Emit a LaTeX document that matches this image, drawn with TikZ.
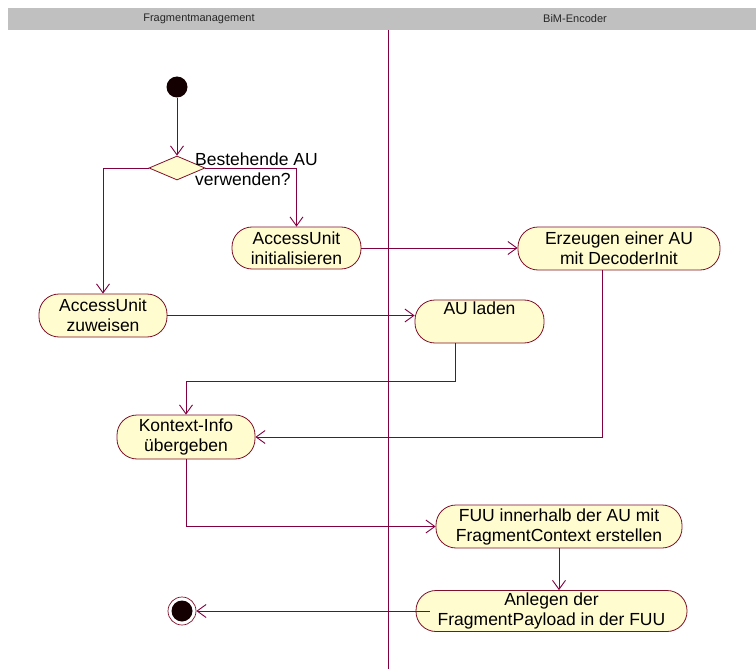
\documentclass[tikz,border=0pt]{standalone}
\usepackage{fontspec}
\setmainfont{Liberation Sans}
\usetikzlibrary{arrows.meta,shapes.geometric}

\definecolor{flow}{RGB}{128,0,64}
\definecolor{edge}{RGB}{128,16,40}
\definecolor{actfill}{RGB}{255,252,207}
\definecolor{lanehead}{RGB}{192,192,192}

\tikzset{
  x=1pt, y=-1pt,
  activity/.style={draw=edge, fill=actfill, line width=0.8pt, rounded corners=20pt,
    align=center, inner sep=0pt, font=\fontsize{17.5}{20}\selectfont},
  flowline/.style={draw=flow, line width=0.9pt,
    -{Straight Barb[length=9pt,width=13pt,line width=0.9pt]}},
  plainline/.style={draw=flow, line width=0.9pt},
  lanetitle/.style={font=\fontsize{11}{12}\selectfont, text=black!85},
}

\begin{document}
\begin{tikzpicture}
  \useasboundingbox (0,0) rectangle (756,669);
  \fill[white] (0,0) rectangle (756,669);

  % swimlane header and divider
  \fill[lanehead] (8,8) rectangle (756,30);
  \node[lanetitle] (laneA) at (199,19) {Fragmentmanagement};
  \node[lanetitle] (laneB) at (575,19) {BiM-Encoder};
  \draw[plainline] (388,30) -- (388,669);

  % start and decision
  \node[circle, fill=black!92!red, minimum size=21pt, inner sep=0pt] (start) at (177,87) {};
  \node[diamond, draw=edge, fill=actfill, line width=0.8pt, minimum width=56pt,
        minimum height=24pt, inner sep=0pt] (dec) at (177,168) {};
  \node[anchor=north west, align=left, inner sep=0pt,
        font=\fontsize{17.5}{20}\selectfont] (q) at (195,153) {Bestehende AU\\verwenden?};

  % activities
  \node[activity, minimum width=129pt, minimum height=42pt] (init) at (296.5,248)
    {AccessUnit\\initialisieren};
  \node[activity, minimum width=128pt, minimum height=43pt] (zuw) at (103,315.5)
    {AccessUnit\\zuweisen};
  \node[activity, minimum width=202pt, minimum height=43pt] (erz) at (619,248.5)
    {Erzeugen einer AU\\mit DecoderInit};
  \node[activity, minimum width=129pt, minimum height=43pt] (laden) at (479.5,321.5)
    {AU laden\\\strut};
  \node[activity, minimum width=138pt, minimum height=44pt] (kontext) at (186,437)
    {Kontext-Info\\übergeben};
  \node[activity, minimum width=246pt, minimum height=43pt] (fuu) at (559,526.5)
    {FUU innerhalb der AU mit\\FragmentContext erstellen};
  \node[activity, minimum width=271pt, minimum height=41pt] (anl) at (551.5,611)
    {Anlegen der\\FragmentPayload in der FUU};

  % final state
  \node[circle, draw=edge, line width=0.7pt, fill=white, minimum size=28pt, inner sep=0pt] (end) at (182,611) {};
  \node[circle, fill=black!92!red, minimum size=21pt, inner sep=0pt] (endin) at (end) {};

  % transitions
  \draw[flowline] (start) -- (dec.north);
  \draw[flowline] (dec.east) -| (init.north);
  \draw[flowline] (dec.west) -| (zuw.north);
  \draw[flowline] (init.east) -- (init.east -| erz.west);
  \draw[flowline] (zuw.east) -- (zuw.east -| laden.west);
  \draw[flowline] ([xshift=-24.5pt]laden.south) |- ([yshift=33pt]kontext.north) -- (kontext.north);
  \draw[flowline] ([xshift=-17pt]erz.south) |- (kontext.east);
  \draw[flowline] (kontext.south) |- (fuu.west);
  \draw[flowline] (fuu.south) -- (fuu.south |- anl.north);
  \draw[flowline] ([xshift=14pt]anl.west) -- (end);
\end{tikzpicture}
\end{document}
